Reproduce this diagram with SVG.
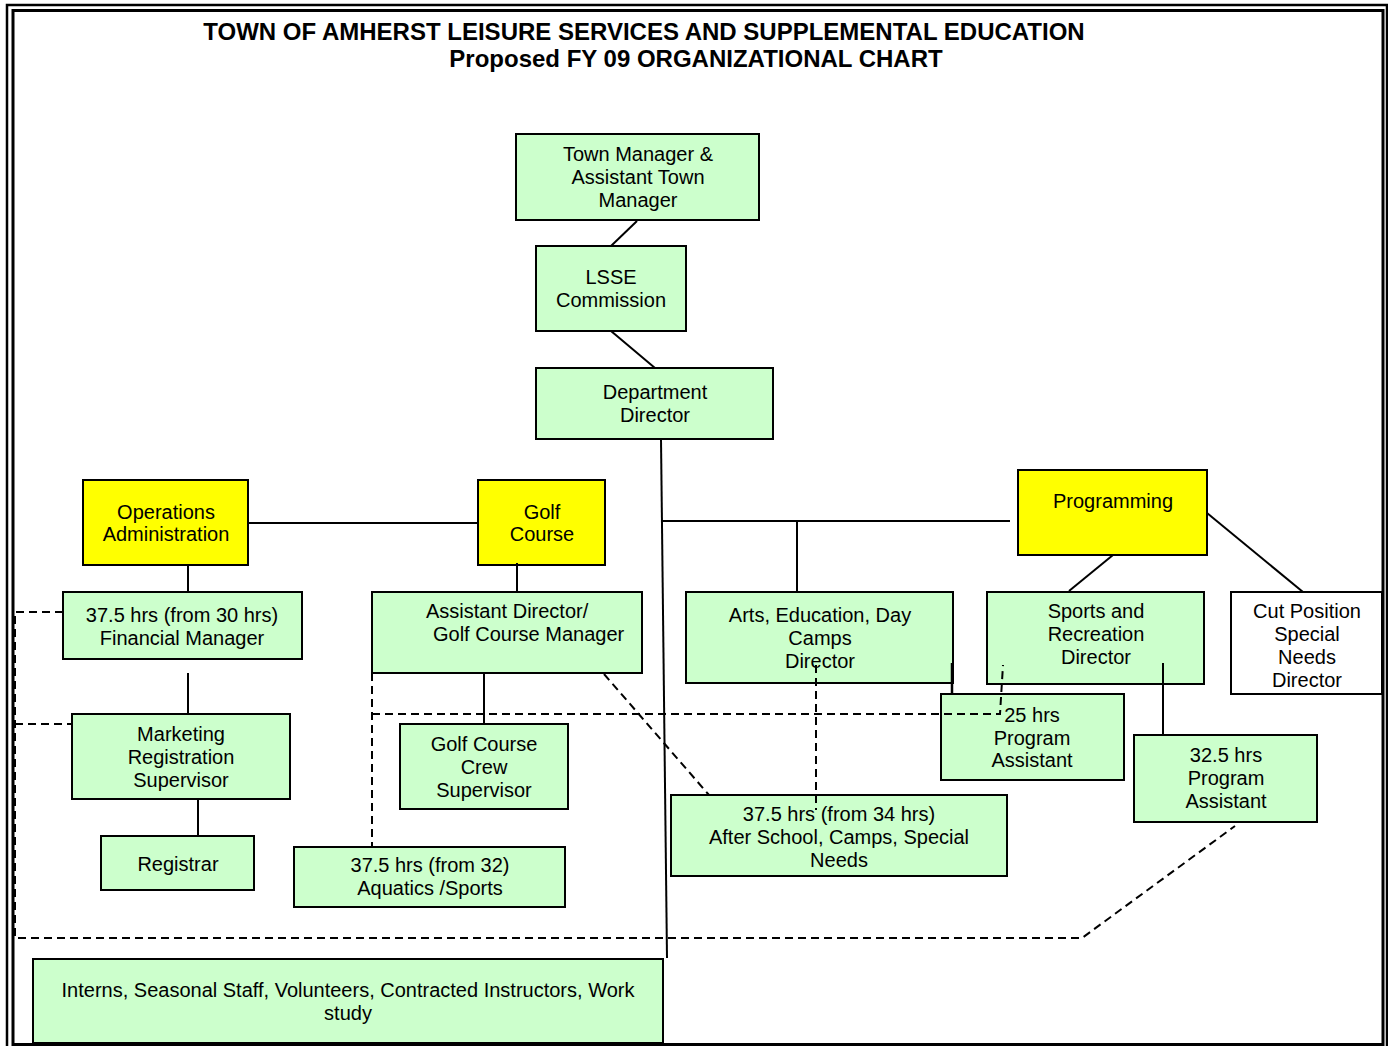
<svg xmlns="http://www.w3.org/2000/svg" width="1388" height="1046" viewBox="0 0 1388 1046">
<style>
.box{stroke:#000;stroke-width:2;}
.g{fill:#CCFFCC;}
.y{fill:#FFFF00;}
.w{fill:#FFFFFF;}
text{font-family:"Liberation Sans",Arial,sans-serif;font-size:20px;fill:#000;text-anchor:middle;}
.title{font-size:24px;font-weight:bold;}
.s{stroke:#000;stroke-width:2;fill:none;}
.d{stroke:#000;stroke-width:2;fill:none;stroke-dasharray:8,5;}
</style>
<rect x="0" y="0" width="1388" height="1046" fill="#FFFFFF"/>
<g id="border">
<rect x="7" y="5" width="1380" height="1060" fill="none" stroke="#000" stroke-width="2.5"/>
<rect x="13" y="10.5" width="1370" height="1034" fill="none" stroke="#000" stroke-width="3"/>
</g>
<g id="title">
<text class="title" x="644" y="40">TOWN OF AMHERST LEISURE SERVICES AND SUPPLEMENTAL EDUCATION</text>
<text class="title" x="696" y="67">Proposed FY 09 ORGANIZATIONAL CHART</text>
</g>
<g id="n-town-manager"><rect class="box g" x="516" y="134" width="243" height="86"/>
<text x="638" y="161">Town Manager &amp;</text><text x="638" y="184">Assistant Town</text><text x="638" y="207">Manager</text></g>
<g id="n-lsse"><rect class="box g" x="536" y="246" width="150" height="85"/>
<text x="611" y="284">LSSE</text><text x="611" y="307">Commission</text></g>
<g id="n-dept-director"><rect class="box g" x="536" y="368" width="237" height="71"/>
<text x="655" y="399">Department</text><text x="655" y="422">Director</text></g>
<g id="n-operations"><rect class="box y" x="83" y="480" width="165" height="85"/>
<text x="166" y="519">Operations</text><text x="166" y="541">Administration</text></g>
<g id="n-golf-course"><rect class="box y" x="478" y="480" width="127" height="85"/>
<text x="542" y="519">Golf</text><text x="542" y="541">Course</text></g>
<g id="n-programming"><rect class="box y" x="1018" y="470" width="189" height="85"/>
<text x="1113" y="508">Programming</text></g>
<g id="n-financial"><rect class="box g" x="63" y="592" width="239" height="67"/>
<text x="182" y="622">37.5 hrs (from 30 hrs)</text><text x="182" y="645">Financial Manager</text></g>
<g id="n-marketing"><rect class="box g" x="72" y="714" width="218" height="85"/>
<text x="181" y="741">Marketing</text><text x="181" y="764">Registration</text><text x="181" y="787">Supervisor</text></g>
<g id="n-registrar"><rect class="box g" x="101" y="836" width="153" height="54"/>
<text x="178" y="871">Registrar</text></g>
<g id="n-asst-director"><rect class="box g" x="372" y="592" width="270" height="81"/>
<text x="426" y="618" style="text-anchor:start">Assistant Director/</text><text x="433" y="641" style="text-anchor:start">Golf Course Manager</text></g>
<g id="n-golf-crew"><rect class="box g" x="400" y="724" width="168" height="85"/>
<text x="484" y="751">Golf Course</text><text x="484" y="774">Crew</text><text x="484" y="797">Supervisor</text></g>
<g id="n-aquatics"><rect class="box g" x="294" y="847" width="271" height="60"/>
<text x="430" y="872">37.5 hrs (from 32)</text><text x="430" y="895">Aquatics /Sports</text></g>
<g id="n-arts"><rect class="box g" x="686" y="592" width="267" height="91"/>
<text x="820" y="622">Arts, Education, Day</text><text x="820" y="645">Camps</text><text x="820" y="668">Director</text></g>
<g id="n-sports"><rect class="box g" x="987" y="592" width="217" height="92"/>
<text x="1096" y="618">Sports and</text><text x="1096" y="641">Recreation</text><text x="1096" y="664">Director</text></g>
<g id="n-cut-position"><rect class="box w" x="1231" y="592" width="151" height="102"/>
<text x="1307" y="618">Cut Position</text><text x="1307" y="641">Special</text><text x="1307" y="664">Needs</text><text x="1307" y="687">Director</text></g>
<g id="n-25hrs"><rect class="box g" x="941" y="694" width="183" height="86"/>
<text x="1032" y="722">25 hrs</text><text x="1032" y="745">Program</text><text x="1032" y="767">Assistant</text></g>
<g id="n-32hrs"><rect class="box g" x="1134" y="735" width="183" height="87"/>
<text x="1226" y="762">32.5 hrs</text><text x="1226" y="785">Program</text><text x="1226" y="808">Assistant</text></g>
<g id="n-after-school"><rect class="box g" x="671" y="795" width="336" height="81"/>
<text x="839" y="821">37.5 hrs (from 34 hrs)</text><text x="839" y="844">After School, Camps, Special</text><text x="839" y="867">Needs</text></g>
<g id="n-interns"><rect class="box g" x="33" y="959" width="630" height="84"/>
<text x="348" y="997">Interns, Seasonal Staff, Volunteers, Contracted Instructors, Work</text><text x="348" y="1020">study</text></g>
<g id="connectors">
<line class="s" x1="637" y1="221" x2="611" y2="246"/>
<line class="s" x1="611" y1="331" x2="655" y2="368"/>
<line class="s" x1="661" y1="439" x2="667" y2="958"/>
<line class="s" x1="662" y1="521" x2="1010" y2="521"/>
<line class="s" x1="797" y1="521" x2="797" y2="592"/>
<line class="s" x1="248" y1="523" x2="478" y2="523"/>
<line class="s" x1="188" y1="565" x2="188" y2="592"/>
<line class="s" x1="517" y1="563" x2="517" y2="592"/>
<line class="s" x1="188" y1="673" x2="188" y2="714"/>
<line class="s" x1="198" y1="799" x2="198" y2="836"/>
<line class="s" x1="484" y1="673" x2="484" y2="724"/>
<line class="s" x1="1113" y1="555" x2="1069" y2="591"/>
<line class="s" x1="1207" y1="513" x2="1303" y2="592"/>
<line class="s" x1="1163" y1="663" x2="1163" y2="734"/>
<line class="s" x1="952" y1="663" x2="952" y2="694" style="stroke-width:2.5"/>
<polyline class="d" points="63,612 15,612 15,938 1082,938 1235,826"/>
<line class="d" x1="15" y1="724" x2="72" y2="724"/>
<line class="d" x1="372" y1="673" x2="372" y2="847"/>
<polyline class="d" points="372,714 1000,714 1003,665"/>
<line class="d" x1="816" y1="665" x2="816" y2="810"/>
<line class="d" x1="604" y1="674" x2="709" y2="795"/>
</g>
</svg>
